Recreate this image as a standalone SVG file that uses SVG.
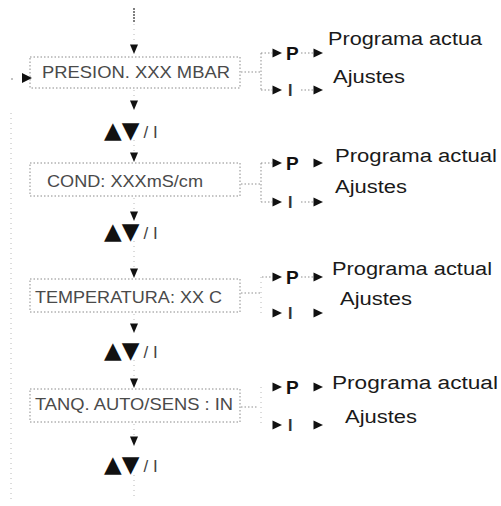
<svg xmlns="http://www.w3.org/2000/svg" width="501" height="506" viewBox="0 0 501 506">
  <style>
    .bg { fill: #ffffff; }
    .box { fill: none; stroke: #8a8a8a; stroke-width: 1; stroke-dasharray: 1.5 2; }
    .dot { fill: none; stroke: #8f8f8f; stroke-width: 1; stroke-dasharray: 1.5 2; }
    .faint { fill: none; stroke: #b8b8b8; stroke-width: 1; stroke-dasharray: 1 4; }
    .head { fill: #111111; }
    .menu { font-family: "Liberation Sans", Arial, sans-serif; font-size: 17px; fill: #4a4a4a; }
    .opt { font-family: "Liberation Sans", Arial, sans-serif; font-size: 18px; fill: #1a1a1a; }
    .key { font-family: "Liberation Sans", Arial, sans-serif; font-size: 19px; font-weight: bold; fill: #111111; }
    .keyi { font-family: "Liberation Sans", Arial, sans-serif; font-size: 16px; font-weight: bold; fill: #333333; }
    .nav { font-family: "DejaVu Sans", sans-serif; font-size: 23px; fill: #111111; }
    .navk { font-family: "Liberation Sans", Arial, sans-serif; font-size: 17px; fill: #444444; letter-spacing: 5px; }
  </style>
  <defs>
    <path id="down" d="M-4,-4.5 L4,-4.5 L0,5 Z"/>
    <path id="right" d="M-4.5,-4.5 L5,0 L-4.5,4.5 Z"/>
  </defs>

  <rect class="bg" x="0" y="0" width="501" height="506"/>

  <!-- vertical flow, side rail and option brackets -->
  <g id="connectors">
    <line x1="134" y1="8" x2="134" y2="22" stroke="#555555" stroke-width="1.5" stroke-dasharray="2 1"/>
    <line class="faint" x1="134" y1="24" x2="134" y2="44"/>
    <line class="faint" x1="134" y1="90" x2="134" y2="100"/>
    <line class="faint" x1="134" y1="140" x2="134" y2="152"/>
    <line class="faint" x1="134" y1="198" x2="134" y2="211"/>
    <line class="faint" x1="134" y1="241" x2="134" y2="268"/>
    <line class="faint" x1="134" y1="314" x2="134" y2="323"/>
    <line class="faint" x1="134" y1="360" x2="134" y2="378"/>
    <line class="faint" x1="134" y1="424" x2="134" y2="436"/>
    <line class="faint" x1="134" y1="475" x2="134" y2="500"/>
    <g class="head">
      <use href="#down" x="134" y="49"/>
      <use href="#down" x="134" y="105"/>
      <use href="#down" x="134" y="157"/>
      <use href="#down" x="134" y="216"/>
      <use href="#down" x="134" y="273"/>
      <use href="#down" x="134" y="328"/>
      <use href="#down" x="134" y="383"/>
      <use href="#down" x="134" y="441"/>
    </g>

    <!-- left return rail -->
    <line class="faint" x1="11" y1="113" x2="11" y2="500"/>
    <circle cx="12" cy="79" r="0.8" fill="#777777"/>
    <path class="head" d="M22,73 L32,78 L22,83 Z"/>

    <!-- bracket 1 -->
    <path class="dot" d="M241,72 H261 M261,53 V90 M261,53 H272 M261,90 H272 M301,53 H313 M301,90 H313"/>
    <!-- bracket 2 -->
    <path class="dot" d="M241,184 H261 M261,163 V202 M261,163 H272 M261,202 H272 M301,202 H313"/>
    <!-- bracket 3 -->
    <path class="dot" d="M241,293 H260 M262,277 H272 M301,277 H313" />
    <path class="faint" d="M261,277 V313"/>
    <!-- bracket 4 -->
    <path class="dot" d="M241,407 H258"/>
    <path class="faint" d="M261,387 V425"/>
    <g class="head">
      <use href="#right" x="277" y="53"/>
      <use href="#right" x="318" y="53"/>
      <use href="#right" x="277" y="90"/>
      <use href="#right" x="318" y="90"/>
      <use href="#right" x="277" y="163"/>
      <use href="#right" x="318" y="163"/>
      <use href="#right" x="277" y="202"/>
      <use href="#right" x="318" y="202"/>
      <use href="#right" x="277" y="277"/>
      <use href="#right" x="318" y="277"/>
      <use href="#right" x="277" y="313"/>
      <use href="#right" x="318" y="313"/>
      <use href="#right" x="277" y="387"/>
      <use href="#right" x="318" y="387"/>
      <use href="#right" x="277" y="425"/>
      <use href="#right" x="318" y="425"/>
    </g>
  </g>

  <!-- menu screens -->
  <g id="menu-presion">
    <rect class="box" x="30" y="57" width="210" height="31"/>
    <text class="menu" x="42" y="78" textLength="188" lengthAdjust="spacingAndGlyphs">PRESION. XXX MBAR</text>
  </g>
  <g id="menu-cond">
    <rect class="box" x="30" y="163" width="210" height="33"/>
    <text class="menu" x="47" y="187" textLength="156" lengthAdjust="spacingAndGlyphs">COND: XXXmS/cm</text>
  </g>
  <g id="menu-temperatura">
    <rect class="box" x="30" y="279" width="210" height="33"/>
    <text class="menu" x="35" y="303" textLength="187" lengthAdjust="spacingAndGlyphs">TEMPERATURA: XX C</text>
  </g>
  <g id="menu-tanque">
    <rect class="box" x="30" y="389" width="210" height="33"/>
    <text class="menu" x="35" y="410" textLength="198" lengthAdjust="spacingAndGlyphs">TANQ. AUTO/SENS : IN</text>
  </g>

  <!-- navigation keys -->
  <g id="nav-1"><text x="104" y="138"><tspan class="nav">▲▼</tspan><tspan class="navk" dx="4">/I</tspan></text></g>
  <g id="nav-2"><text x="104" y="239"><tspan class="nav">▲▼</tspan><tspan class="navk" dx="4">/I</tspan></text></g>
  <g id="nav-3"><text x="104" y="358"><tspan class="nav">▲▼</tspan><tspan class="navk" dx="4">/I</tspan></text></g>
  <g id="nav-4"><text x="104" y="472"><tspan class="nav">▲▼</tspan><tspan class="navk" dx="4">/I</tspan></text></g>

  <!-- option branches -->
  <g id="options-1">
    <text class="key" x="286" y="60">P</text>
    <text class="keyi" x="288" y="96">I</text>
    <text class="opt" x="328" y="45" textLength="154" lengthAdjust="spacingAndGlyphs">Programa actua</text>
    <text class="opt" x="333" y="83" textLength="72" lengthAdjust="spacingAndGlyphs">Ajustes</text>
  </g>
  <g id="options-2">
    <text class="key" x="286" y="170">P</text>
    <text class="keyi" x="288" y="208">I</text>
    <text class="opt" x="335" y="162" textLength="162" lengthAdjust="spacingAndGlyphs">Programa actual</text>
    <text class="opt" x="335" y="193" textLength="72" lengthAdjust="spacingAndGlyphs">Ajustes</text>
  </g>
  <g id="options-3">
    <text class="key" x="286" y="284">P</text>
    <text class="keyi" x="288" y="319">I</text>
    <text class="opt" x="332" y="275" textLength="160" lengthAdjust="spacingAndGlyphs">Programa actual</text>
    <text class="opt" x="340" y="305" textLength="72" lengthAdjust="spacingAndGlyphs">Ajustes</text>
  </g>
  <g id="options-4">
    <text class="key" x="286" y="394">P</text>
    <text class="keyi" x="288" y="431">I</text>
    <text class="opt" x="332" y="389" textLength="166" lengthAdjust="spacingAndGlyphs">Programa actual</text>
    <text class="opt" x="345" y="423" textLength="72" lengthAdjust="spacingAndGlyphs">Ajustes</text>
  </g>
</svg>
